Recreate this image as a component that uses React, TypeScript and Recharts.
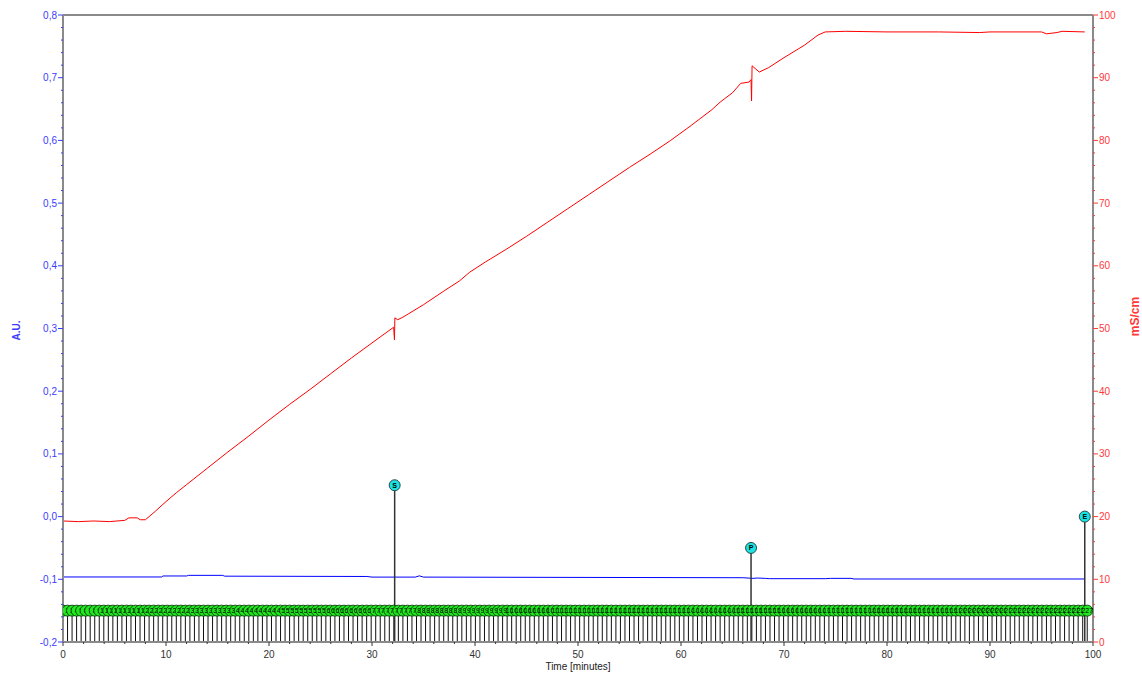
import {
  ComposedChart,
  Line,
  ReferenceLine,
  Scatter,
  XAxis,
  YAxis,
} from "recharts";

// UV absorbance trace (A.U., left axis)
const uvTime = [0, 9.6, 9.7, 12.0, 12.2, 15.5, 15.7, 29.5, 30.0, 34.2, 34.6, 35.0, 66.0, 67.0, 67.4, 68.2, 68.6, 74.0, 74.5, 76.5, 76.8, 99.2];
const uvValue = [-0.0963, -0.0963, -0.0947, -0.0947, -0.0937, -0.0937, -0.095, -0.0955, -0.0965, -0.0965, -0.0945, -0.0965, -0.0975, -0.0985, -0.098, -0.0985, -0.099, -0.099, -0.0985, -0.0985, -0.0995, -0.0995];

// Conductivity trace (mS/cm, right axis)
const condTime = [0, 1.5, 3, 4.5, 6.0, 6.4, 7.2, 7.5, 8.0, 9, 10, 11, 12, 14, 16, 18, 20, 22, 24, 26, 28, 30, 32.1, 32.18, 32.22, 32.5, 33, 35, 37, 38.5, 39.5, 41, 43, 45, 47, 49, 51, 53, 55, 57, 59, 61, 63, 63.8, 65.0, 65.8, 66.6, 66.8, 66.85, 66.9, 67.6, 68.5, 70, 72, 73.3, 74, 76, 80, 85, 89, 90, 95, 95.5, 96.5, 97, 99.2];
const condValue = [19.3, 19.2, 19.3, 19.2, 19.4, 19.8, 19.8, 19.5, 19.5, 20.9, 22.4, 23.8, 25.1, 27.7, 30.3, 32.8, 35.4, 37.9, 40.3, 42.8, 45.3, 47.7, 50.2, 48.2, 51.7, 51.4, 51.8, 53.8, 56.0, 57.6, 59.0, 60.6, 62.6, 64.7, 66.9, 69.1, 71.3, 73.5, 75.7, 77.8, 80.0, 82.4, 84.9, 86.1, 87.6, 89.1, 89.3, 89.7, 86.3, 91.9, 90.9, 91.6, 93.2, 95.2, 96.8, 97.3, 97.4, 97.3, 97.3, 97.2, 97.3, 97.3, 97.0, 97.2, 97.4, 97.3];

// Fraction marks (minutes)
const fractionTime = [
  0, 0.44, 0.88, 1.32, 1.76, 2.2, 2.64, 3.08, 3.52, 3.96,
  4.4, 4.84, 5.28, 5.72, 6.16, 6.6, 7.04, 7.48, 7.92, 8.36,
  8.8, 9.24, 9.68, 10.12, 10.56, 11, 11.44, 11.88, 12.32, 12.76,
  13.2, 13.64, 14.08, 14.52, 14.96, 15.4, 15.84, 16.28, 16.72, 17.16,
  17.6, 18.04, 18.48, 18.92, 19.36, 19.8, 20.24, 20.68, 21.12, 21.56,
  22, 22.44, 22.88, 23.32, 23.76, 24.2, 24.64, 25.08, 25.52, 25.96,
  26.4, 26.84, 27.28, 27.72, 28.16, 28.6, 29.04, 29.48, 29.92, 30.36,
  30.8, 31.24, 31.68, 32.12, 32.56, 33, 33.44, 33.88, 34.32, 34.76,
  35.2, 35.64, 36.08, 36.52, 36.96, 37.4, 37.84, 38.28, 38.72, 39.16,
  39.6, 40.04, 40.48, 40.92, 41.36, 41.8, 42.24, 42.68, 43.12, 43.56,
  44, 44.44, 44.88, 45.32, 45.76, 46.2, 46.64, 47.08, 47.52, 47.96,
  48.4, 48.84, 49.28, 49.72, 50.16, 50.6, 51.04, 51.48, 51.92, 52.36,
  52.8, 53.24, 53.68, 54.12, 54.56, 55, 55.44, 55.88, 56.32, 56.76,
  57.2, 57.64, 58.08, 58.52, 58.96, 59.4, 59.84, 60.28, 60.72, 61.16,
  61.6, 62.04, 62.48, 62.92, 63.36, 63.8, 64.24, 64.68, 65.12, 65.56,
  66, 66.44, 66.88, 67.32, 67.76, 68.2, 68.64, 69.08, 69.52, 69.96,
  70.4, 70.84, 71.28, 71.72, 72.16, 72.6, 73.04, 73.48, 73.92, 74.36,
  74.8, 75.24, 75.68, 76.12, 76.56, 77, 77.44, 77.88, 78.32, 78.76,
  79.2, 79.64, 80.08, 80.52, 80.96, 81.4, 81.84, 82.28, 82.72, 83.16,
  83.6, 84.04, 84.48, 84.92, 85.36, 85.8, 86.24, 86.68, 87.12, 87.56,
  88, 88.44, 88.88, 89.32, 89.76, 90.2, 90.64, 91.08, 91.52, 91.96,
  92.4, 92.84, 93.28, 93.72, 94.16, 94.6, 95.04, 95.48, 95.92, 96.36,
  96.8, 97.24, 97.68, 98.12, 98.56, 99, 99.44,
];
const fractionLevel = -0.15;
const axisFloor = -0.2;

// Run log events: sample, peak, end
const eventName = ["S", "P", "E"];
const eventTime = [32.2, 66.8, 99.2];
const eventLevel = [0.05, -0.05, 0.0];

const timeTicks = Array.from({ length: 51 }, (_, i) => i * 2);
const auTicks = Array.from({ length: 51 }, (_, i) => Math.round((-0.2 + i * 0.02) * 100) / 100);
const msTicks = Array.from({ length: 51 }, (_, i) => i * 2);

const uvData = uvTime.map((t, i) => ({ t, v: uvValue[i] }));
const condData = condTime.map((t, i) => ({ t, v: condValue[i] }));
const fractionData = fractionTime.map((t, i) => ({ t, y: fractionLevel, n: i + 1 }));
const eventData = eventTime.map((t, i) => ({ t, y: eventLevel[i], name: eventName[i] }));

const FONT = "'Liberation Sans', Arial, sans-serif";
const BLUE = "#3b3bff";
const RED = "#ff3838";
const AXIS = "#8a8a8a";

function TimeTick({ x, y, payload }: any) {
  const v = payload.value;
  const major = v % 10 === 0;
  return (
    <g>
      <line x1={x} x2={x} y1={y} y2={y + (major ? 4 : 2)} stroke="#333" />
      {major && (
        <text x={x} y={y + 16} textAnchor="middle" fontSize={10} fontFamily={FONT} fill="#333">
          {v}
        </text>
      )}
    </g>
  );
}

function AuTick({ x, y, payload }: any) {
  const v = payload.value;
  const major = Math.abs(v * 10 - Math.round(v * 10)) < 1e-6;
  return (
    <g>
      <line x1={x - (major ? 5 : 2)} x2={x} y1={y} y2={y} stroke={BLUE} />
      {major && (
        <text x={x - 6} y={y} dy="0.35em" textAnchor="end" fontSize={10} fontFamily={FONT} fill={BLUE}>
          {v.toFixed(1).replace(".", ",")}
        </text>
      )}
    </g>
  );
}

function MsTick({ x, y, payload }: any) {
  const v = payload.value;
  const major = v % 10 === 0;
  return (
    <g>
      <line x1={x} x2={x + (major ? 5 : 2)} y1={y} y2={y} stroke={RED} />
      {major && (
        <text x={x + 6} y={y} dy="0.35em" textAnchor="start" fontSize={10} fontFamily={FONT} fill={RED}>
          {v}
        </text>
      )}
    </g>
  );
}

function AxisTitle({ viewBox, text, fill, fontSize, side }: any) {
  const vb = viewBox || { x: 0, y: 15, width: 63, height: 627 };
  const cx = side === "left" ? vb.x + 16 : vb.x + vb.width - 7;
  const cy = vb.y + vb.height / 2 + (side === "left" ? 2 : -12);
  return (
    <text
      x={cx}
      y={cy}
      transform={`rotate(-90, ${cx}, ${cy})`}
      textAnchor="middle"
      dominantBaseline="central"
      fontSize={fontSize}
      fontWeight="bold"
      fontFamily={FONT}
      fill={fill}
    >
      {text}
    </text>
  );
}

function FractionDot({ cx, cy, payload }: any) {
  return (
    <g>
      <circle cx={cx} cy={cy} r={5.5} fill="#1fe81f" stroke="#0b3d0b" strokeWidth={0.9} />
      <text x={cx} y={cy} dy="0.35em" textAnchor="middle" fontSize={7} fontFamily={FONT} fill="#000">
        {payload.n}
      </text>
    </g>
  );
}

function EventDot({ cx, cy, payload }: any) {
  return (
    <g>
      <circle cx={cx} cy={cy} r={5.5} fill="#19e3e3" stroke="#2a4a4a" strokeWidth={1} />
      <text x={cx} y={cy} dy="0.35em" textAnchor="middle" fontSize={7} fontWeight="bold" fontFamily={FONT} fill="#000">
        {payload.name}
      </text>
    </g>
  );
}

export default function App() {
  return (
    <div style={{ position: "absolute", left: 0, top: 0, background: "#fff" }}>
      <ComposedChart width={1142} height={673} margin={{ top: 15, right: 0, bottom: 0, left: 0 }}>
        <XAxis
          dataKey="t"
          type="number"
          domain={[0, 100]}
          ticks={timeTicks}
          interval={0}
          tickSize={0}
          tickMargin={0}
          tick={<TimeTick />}
          axisLine={{ stroke: AXIS, strokeWidth: 2 }}
          height={31}
          allowDataOverflow
          label={{ value: "Time [minutes]", position: "insideBottom", offset: 3, fontSize: 10, fill: "#222", fontFamily: FONT }}
        />
        <YAxis
          yAxisId="left"
          type="number"
          domain={[-0.2, 0.8]}
          ticks={auTicks}
          interval={0}
          tickSize={0}
          tickMargin={0}
          tick={<AuTick />}
          axisLine={{ stroke: AXIS, strokeWidth: 2 }}
          width={63}
          allowDataOverflow
          label={<AxisTitle text="A.U." fill={BLUE} fontSize={10} side="left" />}
        />
        <YAxis
          yAxisId="right"
          orientation="right"
          type="number"
          domain={[0, 100]}
          ticks={msTicks}
          interval={0}
          tickSize={0}
          tickMargin={0}
          tick={<MsTick />}
          axisLine={{ stroke: AXIS, strokeWidth: 2 }}
          width={49}
          allowDataOverflow
          label={<AxisTitle text="mS/cm" fill={RED} fontSize={12} side="right" />}
        />
        <ReferenceLine yAxisId="left" y={0.8} stroke={AXIS} strokeWidth={2} />

        {fractionTime.map((t) => (
          <ReferenceLine
            key={`f${t}`}
            yAxisId="left"
            segment={[{ x: t, y: axisFloor }, { x: t, y: -0.158 }]}
            stroke="#111"
            strokeWidth={1}
          />
        ))}

        <Line yAxisId="left" data={uvData} dataKey="v" type="linear" stroke="#0000ff" strokeWidth={1} dot={false} isAnimationActive={false} />
        <Line yAxisId="right" data={condData} dataKey="v" type="linear" stroke="#ff0000" strokeWidth={1} dot={false} isAnimationActive={false} />

        <Scatter yAxisId="left" data={fractionData} dataKey="y" shape={<FractionDot />} isAnimationActive={false} />

        {eventTime.map((t, i) => (
          <ReferenceLine
            key={`e${t}`}
            yAxisId="left"
            segment={[{ x: t, y: axisFloor }, { x: t, y: eventLevel[i] }]}
            stroke="#333"
            strokeWidth={1.5}
          />
        ))}
        <Scatter yAxisId="left" data={eventData} dataKey="y" shape={<EventDot />} isAnimationActive={false} />
      </ComposedChart>
    </div>
  );
}
